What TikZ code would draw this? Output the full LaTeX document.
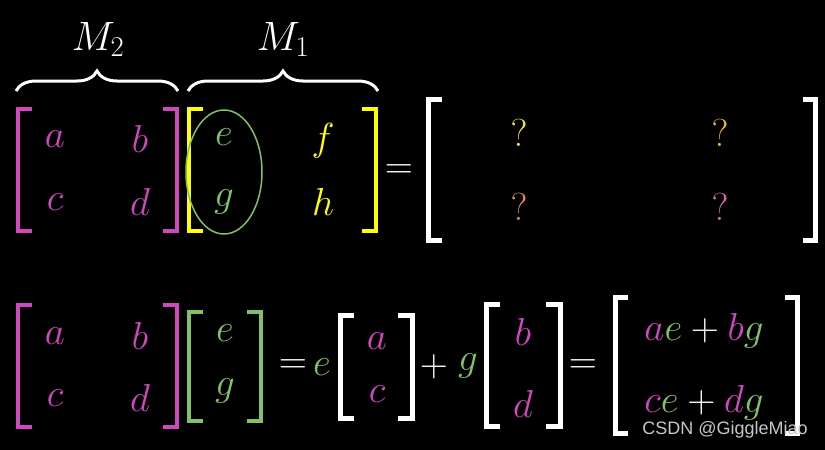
\RequirePackage{fix-cm}
\documentclass[tikz,border=0pt]{standalone}
\usepackage{fontspec}
\newfontfamily\wmfont{Liberation Sans}
\usetikzlibrary{decorations.pathreplacing}
\definecolor{pk}{HTML}{D147BD}
\definecolor{gr}{HTML}{83C167}
\definecolor{yl}{HTML}{FFFF00}
\definecolor{q1}{HTML}{F5E62A}
\definecolor{q2}{HTML}{E8B43A}
\definecolor{q3}{HTML}{D98C5E}
\definecolor{q4}{HTML}{D76CA8}
\tikzset{m/.style={font=\fontsize{39}{39}\selectfont,inner sep=0pt},
	br/.style={line width=4pt},
	bw/.style={line width=5pt,white},
	bc/.style={white,line width=3pt,decorate,decoration={brace,amplitude=20pt}},
	wm/.style={font=\wmfont\fontsize{18}{18}\selectfont,text=white!78!black,inner sep=0pt}}

\begin{document}
\begin{tikzpicture}[x=1pt,y=-1pt]
		\fill[black] (0,0) rectangle (825,450);
		\useasboundingbox (0,0) rectangle (825,450);
		
		\draw[bc] (16,91)--(178,91);
		\draw[bc] (188,91)--(378,91);
		\path[m,white,anchor=base,font=\fontsize{41}{41}\selectfont]
		(98,50)  node(m2){$M_2$}
		(283,50) node(m1){$M_1$};
		
		\draw[br,pk]
		(32,109) -| (18,231) -- ++(14,0)
		(163,109) -| (177,231) -- ++(-14,0);
		\draw[br,yl]
		(203,109) -| (189,231) -- ++(14,0)
		(362,109) -| (376,231) -- ++(-14,0);
		\draw[bw]
		(442,99) -| (428,240) -- ++(14,0)
		(803,99) -| (815,240) -- ++(-12,0);
		
		\path[m,pk]
		(55,139)  node(a1){$a$}
		(140,139) node(b1){$b$}
		(55,202)  node(c1){$c$}
		(140,202) node(d1){$d$};
		\path[m,gr]
		(224,137) node(e1){$e$}
		(224,202) node(g1){$g$};
		\path[m,yl]
		(323,141) node(f1){$f$}
		(323,202) node(h1){$h$};
		\draw[gr,line width=1.5pt] (224,172) ellipse [x radius=38,y radius=62];
		\node[m,white] (eq1) at (399,172) {$=$};
		\path[m]
		(519,133) node[q1](q11){$?$}
		(720,133) node[q2](q12){$?$}
		(519,207) node[q3](q21){$?$}
		(720,207) node[q4](q22){$?$};
		
		\draw[br,pk]
		(32,305) -| (18,427) -- ++(14,0)
		(163,305) -| (177,427) -- ++(-14,0);
		\draw[br,gr]
		(203,312) -| (189,421) -- ++(14,0)
		(247,312) -| (261,421) -- ++(-14,0);
		\draw[bw]
		(354,315) -| (340,418) -- ++(14,0)
		(398,315) -| (412,418) -- ++(-14,0);
		\draw[bw]
		(500,304) -| (486,426) -- ++(14,0)
		(546,304) -| (560,426) -- ++(-14,0);
		\draw[bw]
		(628,297) -| (615,433) -- ++(13,0)
		(785,297) -| (797,433) -- ++(-12,0);
		
		\path[m,pk]
		(55,336)  node(a2){$a$}
		(140,336) node(b2){$b$}
		(55,398)  node(c2){$c$}
		(140,398) node(d2){$d$};
		\path[m,gr]
		(225,333) node(e2){$e$}
		(225,391) node(g2){$g$};
		\path[m]
		(293,367) node[white](eq2){$=$}
		(322,367) node[gr](e3){$e$}
		(377,341) node[pk](a3){$a$}
		(377,394) node[pk](c3){$c$}
		(434,367) node[white](pl){$+$}
		(468,366) node[gr](g3){$g$}
		(523,332) node[pk](b3){$b$}
		(523,404) node[pk](d3){$d$}
		(583,367) node[white](eq3){$=$};
		\path[m,white,anchor=base]
		(704,340) node(r1){${\color{pk}a}{\color{gr}e}+{\color{pk}b}{\color{gr}g}$}
		(704,412) node(r2){${\color{pk}c}{\color{gr}e}+{\color{pk}d}{\color{gr}g}$};
		\node[wm,anchor=base] (wm) at (725,434) {CSDN @GiggleMiao};
	\end{tikzpicture}
\end{document}
